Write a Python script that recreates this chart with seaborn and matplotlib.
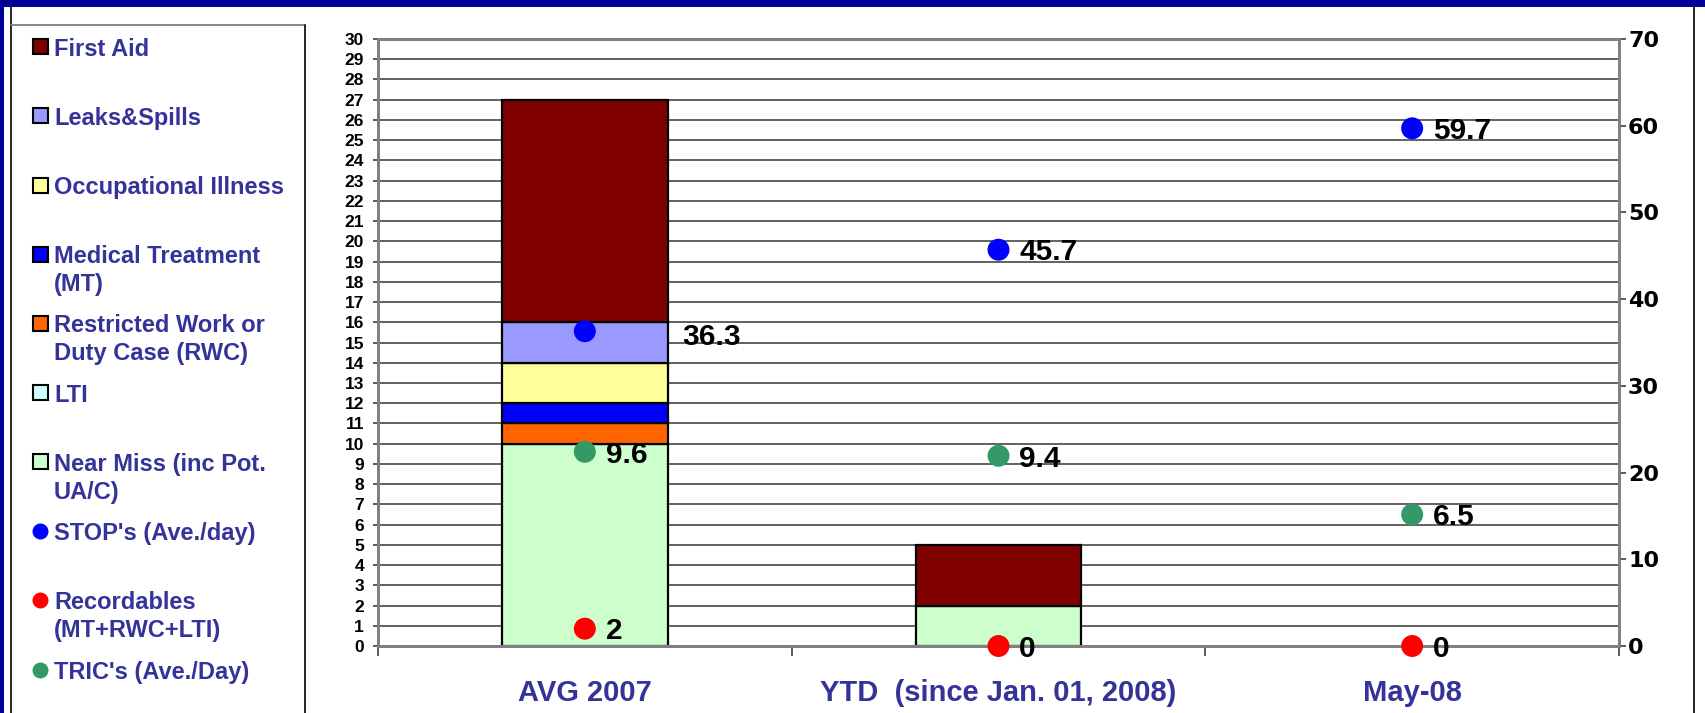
import numpy as np
import matplotlib.pyplot as plt
import seaborn as sns
from matplotlib.patches import Rectangle
from matplotlib.lines import Line2D

# ---- data ----
categories = ["AVG 2007", "YTD  (since Jan. 01, 2008)", "May-08"]

# stacked bars on the left axis (bottom -> top)
near_miss = [10, 2, 0]
lti = [0, 0, 0]
rwc = [1, 0, 0]
medical = [1, 0, 0]
occ_illness = [2, 0, 0]
leaks_spills = [2, 0, 0]
first_aid = [11, 3, 0]

# points
stops = [36.3, 45.7, 59.7]      # right axis
recordables = [2, 0, 0]         # right axis
trics = [9.6, 9.4, 6.5]         # left axis

left_ticks = list(range(0, 31))
right_ticks = list(range(0, 71, 10))

legend_labels = ["First Aid", "Leaks&Spills", "Occupational Illness",
                 "Medical Treatment\n(MT)", "Restricted Work or\nDuty Case (RWC)",
                 "LTI", "Near Miss (inc Pot.\nUA/C)", "STOP's (Ave./day)",
                 "Recordables\n(MT+RWC+LTI)", "TRIC's (Ave./Day)"]

col = {"First Aid": "#800000", "Leaks&Spills": "#9999FF", "Occupational Illness": "#FFFF99",
       "MT": "#0000FF", "RWC": "#FF6600", "LTI": "#CCFFFF", "Near Miss": "#CCFFCC",
       "STOP": "#0000FF", "Rec": "#FF0000", "TRIC": "#339966"}
legend_colors = [col["First Aid"], col["Leaks&Spills"], col["Occupational Illness"], col["MT"],
                 col["RWC"], col["LTI"], col["Near Miss"], col["STOP"], col["Rec"], col["TRIC"]]
legend_kind = ["sq"] * 7 + ["dot"] * 3

sns.set_theme(style="white")
plt.rcParams['font.family'] = ['Liberation Sans', 'DejaVu Sans']

W, H = 1705, 713
fig = plt.figure(figsize=(W / 100, H / 100), dpi=100)
ax = fig.add_axes([378 / W, (H - 646) / H, (1619 - 378) / W, (646 - 39) / H])
ax2 = ax.twinx()

x = np.arange(len(categories))
layers = [(near_miss, col["Near Miss"]), (lti, col["LTI"]), (rwc, col["RWC"]),
          (medical, col["MT"]), (occ_illness, col["Occupational Illness"]),
          (leaks_spills, col["Leaks&Spills"]), (first_aid, col["First Aid"])]
bottom = np.zeros(len(categories))
for vals, c in layers:
    vals = np.array(vals, dtype=float)
    lw = np.where(vals > 0, 1.6, 0)
    ax.bar(x, vals, width=0.4, bottom=bottom, color=c, edgecolor="black", linewidth=lw, zorder=2)
    bottom += vals

sns.scatterplot(x=x, y=trics, ax=ax, color=col["TRIC"], s=250, edgecolor="none",
                zorder=5, clip_on=False, legend=False)
sns.scatterplot(x=x, y=stops, ax=ax2, color=col["STOP"], s=250, edgecolor="none",
                zorder=5, clip_on=False, legend=False)
sns.scatterplot(x=x, y=recordables, ax=ax2, color=col["Rec"], s=250, edgecolor="none",
                zorder=5, clip_on=False, legend=False)

lab_kw = dict(textcoords="offset points", fontsize=21.5, fontweight="bold", color="black",
              va="center", ha="left", annotation_clip=False)
for i, v in enumerate(stops):
    dx = 70 if i == 0 else 15
    dy = -4 if i == 0 else -2
    ax2.annotate(f"{v:g}", (x[i], v), xytext=(dx, dy), **lab_kw)
for i, v in enumerate(recordables):
    ax2.annotate(f"{v:g}", (x[i], v), xytext=(15, -2), **lab_kw)
for i, v in enumerate(trics):
    ax.annotate(f"{v:g}", (x[i], v), xytext=(15, -2), **lab_kw)

# axes styling
ax.set_xlim(-0.5, 2.5)
ax.set_ylim(0, 30)
ax2.set_ylim(0, 70)
ax.set_axisbelow(True)
ax.set_yticks(left_ticks)
ax.yaxis.grid(True, color="#555555", linewidth=1.3)
ax.set_yticklabels([str(t) for t in left_ticks], fontsize=12.5, fontweight="bold", color="black")
ax.tick_params(axis="y", left=True, length=3.6, width=1.2, color="#404040", pad=6.5, direction="out")
ax2.set_yticks(right_ticks)
ax2.set_yticklabels([str(t) for t in right_ticks], fontsize=16, fontweight="bold",
                    color="black", family="DejaVu Sans")
ax2.tick_params(axis="y", right=True, length=5, width=1.2, color="#404040", pad=1.5, direction="out")

ax.set_xticks(x)
ax.set_xticklabels(categories, fontsize=21, fontweight="bold", color="#333399")
ax.set_xticks([-0.5, 0.5, 1.5, 2.5], minor=True)
ax.tick_params(axis="x", which="major", bottom=True, length=0, pad=24)
ax.tick_params(axis="x", which="minor", bottom=True, length=7.5, width=1.2, color="#404040",
               direction="out")
ax2.tick_params(axis="x", bottom=False, top=False)

for a in (ax, ax2):
    for s in a.spines.values():
        s.set_color("#808080")
        s.set_linewidth(2)
    a.set_xlabel("")
    a.set_ylabel("")

# frame and legend box
def fx(px):
    return px / W

def fy(py):
    return 1 - py / H

fig.add_artist(Rectangle((0, fy(7)), 1, 7 / H, transform=fig.transFigure,
                         facecolor="#000099", edgecolor="none"))
fig.add_artist(Rectangle((0, 0), fx(3.5), 1, transform=fig.transFigure,
                         facecolor="#000099", edgecolor="none"))
for xx in (11, 1694):
    fig.add_artist(Line2D([fx(xx), fx(xx)], [0, fy(7)], color="black", lw=1.2,
                          transform=fig.transFigure))
fig.add_artist(Line2D([fx(11), fx(305)], [fy(24.5), fy(24.5)], color="#808080", lw=1.3,
                      transform=fig.transFigure))
fig.add_artist(Line2D([fx(305), fx(305)], [0, fy(24.5)], color="black", lw=1.2,
                      transform=fig.transFigure))

for i, (lab, c, kind) in enumerate(zip(legend_labels, legend_colors, legend_kind)):
    yc = 46.7 + i * 69.2
    if kind == "sq":
        fig.add_artist(Rectangle((fx(32.5), fy(yc + 7.5)), 15 / W, 15 / H, transform=fig.transFigure,
                                 facecolor=c, edgecolor="black", lw=1.5))
    else:
        fig.add_artist(Line2D([fx(40)], [fy(yc)], marker="o", ms=11.5, color=c,
                              markeredgecolor="none", linestyle="none", transform=fig.transFigure))
    for j, line in enumerate(lab.split("\n")):
        fig.text(fx(54), fy(yc + j * 27.7 + 2.5), line, fontsize=17, fontweight="bold",
                 color="#333399", va="center", ha="left")

fig.savefig("out.png", dpi=100)
